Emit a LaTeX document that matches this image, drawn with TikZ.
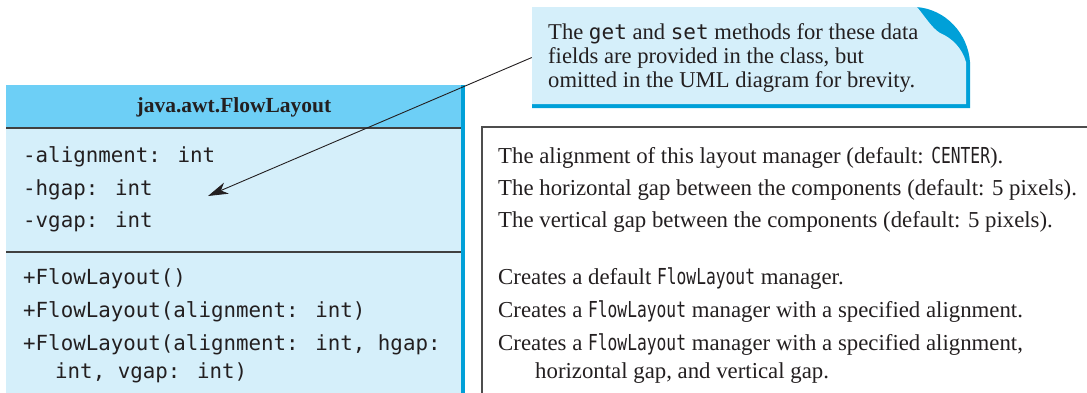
\documentclass[tikz,border=0pt]{standalone}
\usepackage{fontspec}
\setmainfont{Liberation Serif}
\newfontfamily\umlmono{DejaVu Sans Mono}
\newfontfamily\umlmonoc[FakeStretch=0.74]{DejaVu Sans Mono}
\usetikzlibrary{arrows.meta}
\definecolor{ink}{HTML}{231F20}
\definecolor{headfill}{HTML}{6DCFF6}
\definecolor{bodyfill}{HTML}{D5EFFA}
\definecolor{barblue}{HTML}{00A0D8}
\definecolor{rulegray}{HTML}{404040}
\definecolor{boxgray}{HTML}{4D4D4D}
\begin{document}
\begin{tikzpicture}[x=1pt,y=-1pt,
  txt/.style={anchor=base west, inner sep=0pt, text=ink},
  attr/.style={txt, font=\umlmono\fontsize{20.8}{25}\selectfont},
  desc/.style={txt, font=\fontsize{22.8}{27}\selectfont},
  notetxt/.style={txt, font=\fontsize{22.6}{26}\selectfont},
  divider/.style={draw=rulegray, line width=1.5pt},
  pointer/.style={draw=ink, line width=0.9pt, -{Stealth[length=20pt,width=12pt,inset=6pt]}}]
\useasboundingbox (0,0) rectangle (1087,392);
\clip (0,0) rectangle (1087,392);
\newcommand{\dm}[1]{{\umlmonoc\fontsize{22}{25}\selectfont #1}}
\newcommand{\nm}[1]{{\umlmono\fontsize{21}{25}\selectfont #1}}

% class box
\fill[bodyfill] (6,85) rectangle (463,400);
\fill[headfill] (6,85) rectangle (463,128);
\draw[divider] (6,128) -- (461,128);
\draw[divider] (6,252) -- (461,252);
\fill[barblue] (461,85) rectangle (465,400);
\node[txt, anchor=base, font=\bfseries\fontsize{21.5}{25}\selectfont] (title) at (234,112) {java.awt.FlowLayout};

\node[attr] (a1) at (23,162) {-alignment: int};
\node[attr] (a2) at (23,195) {-hgap: int};
\node[attr] (a3) at (23,227) {-vgap: int};
\node[attr] (m1) at (23,284) {+FlowLayout()};
\node[attr] (m2) at (23,317) {+FlowLayout(alignment: int)};
\node[attr] (m3) at (23,350) {+FlowLayout(alignment: int, hgap:};
\node[attr] (m3b) at (55,378) {int, vgap: int)};

% description box
\draw[draw=boxgray, line width=1.2pt, fill=white] (482,400) -- (482,127) -- (1095,127);
\node[desc] (d1) at (498,163) {The alignment of this layout manager (default: \dm{CENTER}).};
\node[desc] (d2) at (498,195) {The horizontal gap between the components (default: 5 pixels).};
\node[desc] (d3) at (498,227) {The vertical gap between the components (default: 5 pixels).};
\node[desc] (d4) at (498,284) {Creates a default \dm{FlowLayout} manager.};
\node[desc] (d5) at (498,317) {Creates a \dm{FlowLayout} manager with a specified alignment.};
\node[desc] (d6) at (498,350) {Creates a \dm{FlowLayout} manager with a specified alignment,};
\node[desc] (d7) at (535,378) {horizontal gap, and vertical gap.};

% note
\fill[barblue] (532,7) -- (916,7) .. controls (946,9) and (968,34) .. (970,62) -- (970,108) -- (532,108) -- cycle;
\fill[bodyfill] (532,7) -- (917,7) .. controls (926,18) and (932,28) .. (940,33) .. controls (952,38) and (962,48) .. (966,62) -- (966,104) -- (532,104) -- cycle;
\node[minimum width=438pt, minimum height=101pt, inner sep=0pt] (note) at (751,57.5) {};
\node[notetxt] (n1) at (548,39) {The \nm{get} and \nm{set} methods for these data};
\node[notetxt] (n2) at (548,63) {fields are provided in the class, but};
\node[notetxt] (n3) at (548,87) {omitted in the UML diagram for brevity.};

\coordinate (tip) at (208,196);
\draw[pointer] (note.west) -- (tip);
\end{tikzpicture}
\end{document}
